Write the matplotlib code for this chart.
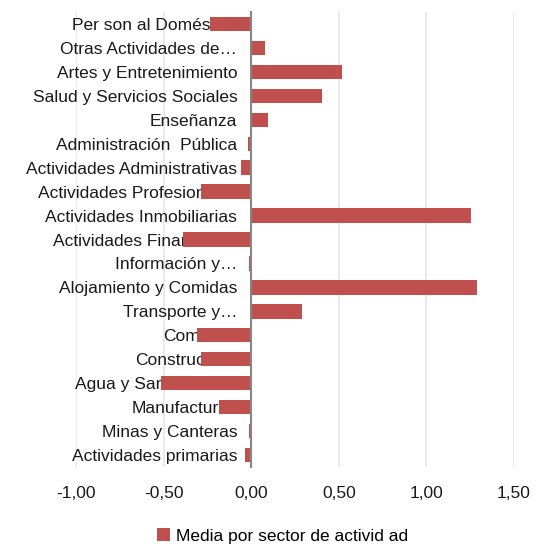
import matplotlib
matplotlib.use("Agg")
import matplotlib.pyplot as plt
from matplotlib.patches import Patch

categories = [
    "Actividades primarias", "Minas y Canteras", "Manufacturas", "Agua y Saneamiento",
    "Construcción", "Comercio", "Transporte y…", "Alojamiento y Comidas",
    "Información y…", "Actividades Financieras", "Actividades Inmobiliarias",
    "Actividades Profesionales", "Actividades Administrativas", "Administración  Pública",
    "Enseñanza", "Salud y Servicios Sociales", "Artes y Entretenimiento",
    "Otras Actividades de…", "Per son al Doméstico",
]
values = [
    -0.035, -0.015, -0.185, -0.515,
    -0.285, -0.31, 0.29, 1.29,
    -0.015, -0.39, 1.256,
    -0.285, -0.06, -0.017,
    0.097, 0.403, 0.517,
    0.08, -0.233,
]
xticks = [-1.0, -0.5, 0.0, 0.5, 1.0, 1.5]
xtick_labels = ["-1,00", "-0,50", "0,00", "0,50", "1,00", "1,50"]
series_name = "Media por sector de activid ad"

plt.rcParams['font.family'] = ['Liberation Sans', 'DejaVu Sans']
fig = plt.figure(figsize=(5.39, 5.47), dpi=100)
ax = fig.add_axes([76/539, 1-467/547, (514-76)/539, (467-12)/547])

color = '#C0504D'
fs = 12.5
ypos = list(range(len(categories)))
ax.barh(ypos, values, height=0.6, color=color, zorder=3)

for s in ['top', 'right', 'bottom']:
    ax.spines[s].set_visible(False)
ax.spines['left'].set_position(('data', 0))
ax.spines['left'].set_color('#868686')
ax.spines['left'].set_linewidth(1.5)
ax.spines['left'].set_zorder(4)

ax.set_xlim(-1.0, 1.5)
ax.set_ylim(-0.5, len(categories)-0.5)
ax.set_xticks(xticks)
ax.set_xticklabels(xtick_labels)
ax.set_yticks(ypos)
ax.set_yticklabels(categories)
ax.tick_params(axis='both', length=0, labelsize=fs, labelcolor='#1a1a1a')
ax.tick_params(axis='y', pad=10)
ax.tick_params(axis='x', pad=13.5)

ax.grid(axis='x', color='#e6e6e6', linewidth=1.2)
ax.grid(axis='y', visible=False)
ax.set_axisbelow(True)

handles = [Patch(facecolor=color, label=series_name)]
fig.legend(handles=handles, loc='center', bbox_to_anchor=(0.525, 1-536/547),
           frameon=False, fontsize=fs, handlelength=0.7, handleheight=0.7,
           handletextpad=0.4)

fig.savefig("out.png", dpi=100)
